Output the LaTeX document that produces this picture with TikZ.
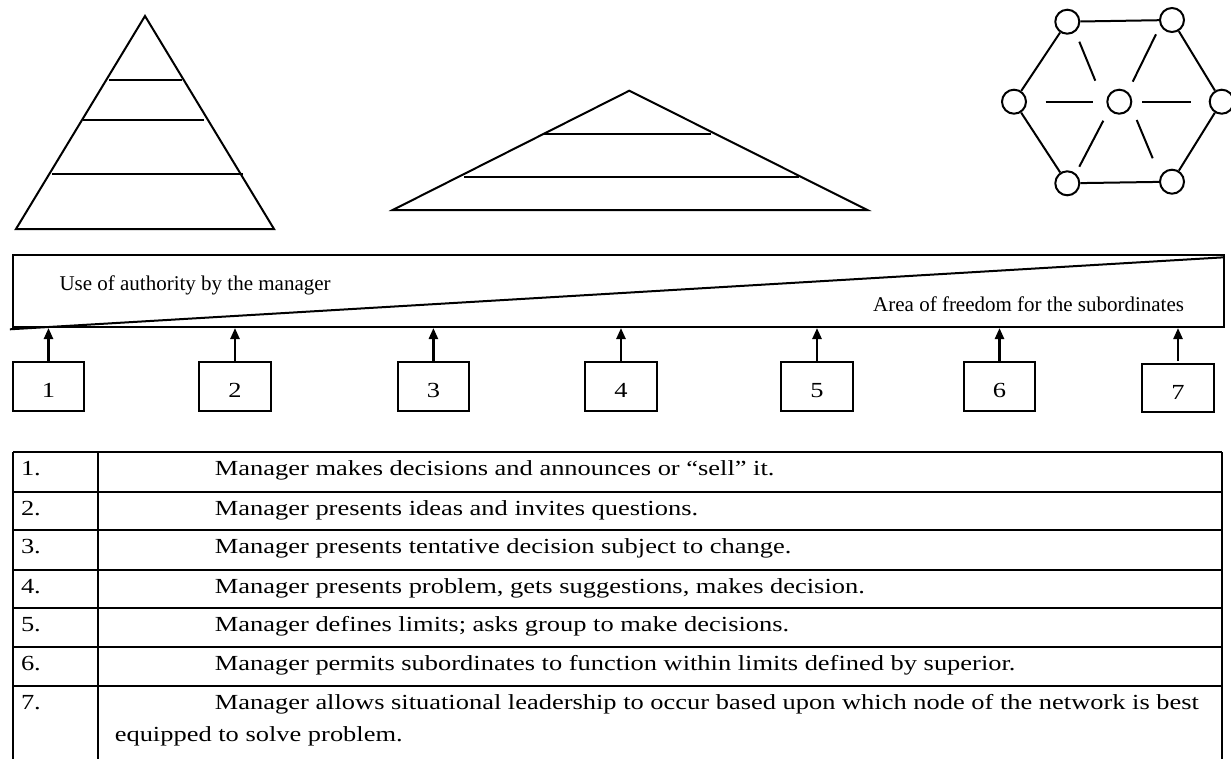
\documentclass[tikz,border=0pt]{standalone}
\usepackage{fontspec}
\setmainfont{Liberation Serif}
\newfontfamily\tabfont[FakeStretch=1.23]{Liberation Serif}
\usetikzlibrary{arrows.meta}
\begin{document}
\begin{tikzpicture}[x=1pt,y=-1pt,line width=2pt,
  numbox/.style={draw, minimum width=71.6pt, minimum height=48.4pt, inner sep=0pt,
    text height=22pt, text depth=0pt, font=\tabfont\fontsize{21.5}{24}\selectfont},
  hub/.style={draw, circle, minimum size=24pt, inner sep=0pt},
  uparrow/.style={line width=2.4pt, -{Triangle[length=11pt,width=9pt]}},
  bartext/.style={anchor=base west, inner sep=0pt, font=\fontsize{21}{24}\selectfont},
  celltext/.style={anchor=base west, inner sep=0pt, font=\tabfont\fontsize{21.5}{24}\selectfont}]
\useasboundingbox (0,0) rectangle (1231,758);

% left pyramid
\draw (145,16) -- (16,229) -- (274,229) -- cycle;
\draw (109,80) -- (182,80);
\draw (83,120) -- (204,120);
\draw (52,174) -- (243,174);

% middle triangle
\draw (629.3,90.7) -- (392.7,210) -- (867.3,210) -- cycle;
\draw (543.3,134) -- (710.7,134);
\draw (464,176.7) -- (799.3,176.7);

% network
\node[hub] (tl) at (1067.3,21.7) {};
\node[hub] (tr) at (1172,20) {};
\node[hub] (l)  at (1014,101.7) {};
\node[hub] (c)  at (1119.3,101.7) {};
\node[hub] (r)  at (1221.7,101.7) {};
\node[hub] (bl) at (1067.3,183.3) {};
\node[hub] (br) at (1172,181.7) {};
\draw (tl) -- (tr);
\draw (tl) -- (l);
\draw (l) -- (bl);
\draw (bl) -- (br);
\draw (br) -- (r);
\draw (r) -- (tr);
\coordinate (s1a) at (1079.3,41.7);  \coordinate (s1b) at (1095.3,80.7);
\coordinate (s2a) at (1156,34.3);    \coordinate (s2b) at (1132.7,81.7);
\coordinate (s3a) at (1045.7,101.7); \coordinate (s3b) at (1093.3,101.7);
\coordinate (s4a) at (1142.3,101.7); \coordinate (s4b) at (1190.7,101.7);
\coordinate (s5a) at (1103.3,120.7); \coordinate (s5b) at (1079.3,166.7);
\coordinate (s6a) at (1136.7,120);   \coordinate (s6b) at (1152.7,158.3);
\draw (s1a) -- (s1b);
\draw (s2a) -- (s2b);
\draw (s3a) -- (s3b);
\draw (s4a) -- (s4b);
\draw (s5a) -- (s5b);
\draw (s6a) -- (s6b);

% bar
\node[draw, minimum width=1211.3pt, minimum height=72pt, inner sep=0pt] (bar) at (618.35,291) {};
\coordinate (dstart) at (9.9,329.3);
\coordinate (dend) at (1224,257.3);
\draw (dstart) -- (dend);
\node[bartext] (use) at (58.5,290) {Use of authority by the manager};
\node[bartext] (area) at (872.2,311.7) {Area of freedom for the subordinates};

% boxes
\node[numbox] (b1) at (48.5,386.5) {1};
\node[numbox] (b2) at (235,386.5) {2};
\node[numbox] (b3) at (433.4,386.5) {3};
\node[numbox] (b4) at (621,386.5) {4};
\node[numbox] (b5) at (817,386.5) {5};
\node[numbox] (b6) at (999.5,386.5) {6};
\node[numbox] (b7) at (1178,388.2) {7};
\foreach \b in {b1,b2,b3,b4,b5,b6}
  \draw[uparrow] (\b.north) -- (\b.north |- bar.south);
\draw[uparrow] ([yshift=2pt]b7.north) -- (b7.north |- bar.south);

% table
\foreach \yy in {452.3,491.7,530,570,608.3,647.3,686}
  \draw (13,\yy) -- (1222,\yy);
\draw (13,452.3) -- (13,760);
\draw (98.3,452.3) -- (98.3,760);
\draw (1222,452.3) -- (1222,760);

\node[celltext] (n1) at (20,475.6) {1.};
\node[celltext] (n2) at (20,515) {2.};
\node[celltext] (n3) at (20,553.3) {3.};
\node[celltext] (n4) at (20,593.3) {4.};
\node[celltext] (n5) at (20,631.6) {5.};
\node[celltext] (n6) at (20,670.6) {6.};
\node[celltext] (n7) at (20,709.3) {7.};

\node[celltext] (t1) at (213.9,475.6) {Manager makes decisions and announces or “sell” it.};
\node[celltext] (t2) at (213.9,515) {Manager presents ideas and invites questions.};
\node[celltext] (t3) at (213.9,553.3) {Manager presents tentative decision subject to change.};
\node[celltext] (t4) at (213.9,593.3) {Manager presents problem, gets suggestions, makes decision.};
\node[celltext] (t5) at (213.9,631.6) {Manager defines limits; asks group to make decisions.};
\node[celltext] (t6) at (213.9,670.6) {Manager permits subordinates to function within limits defined by superior.};
\node[celltext] (t7) at (213.9,709.3) {Manager allows situational leadership to occur based upon which node of the network is best};
\node[celltext] (t7b) at (113.8,741.7) {equipped to solve problem.};
\end{tikzpicture}
\end{document}
